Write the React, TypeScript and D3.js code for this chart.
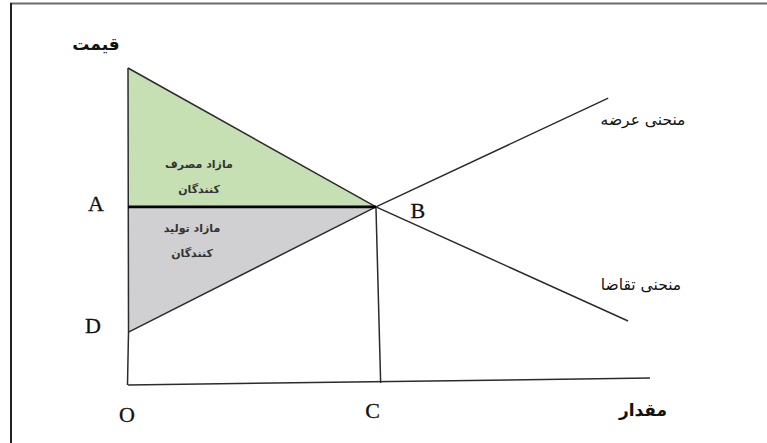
import React, { useEffect, useRef } from "react";
import * as d3 from "d3";

// quantity (q) / price (p) points, axes 0..10
const demandPts: [number, number][] = [[0, 10], [4.75, 5.62], [9.58, 2.02]];
const supplyPts: [number, number][] = [[0.01, 1.67], [4.75, 5.62], [9.2, 9.05]];
const xAxisPts: [number, number][] = [[0, 0], [10, 0.22]];
const yAxisPts: [number, number][] = [[-0.01, 0], [0.01, 1.67], [0, 10]];
const qLinePts: [number, number][] = [[4.75, 5.62], [4.84, 0.06]];
const priceA = 5.62;
const priceD = 1.67;
const qtyC = 4.84;

const pointLabels = ["A", "B", "C", "D", "O"];
const consumerLabel = ["مازاد مصرف", "کنندگان"];
const producerLabel = ["مازاد تولید", "کنندگان"];
const axisTitles = { price: "قیمت", qty: "مقدار" };
const curveLabels = { supply: "منحنی عرضه", demand: "منحنی تقاضا" };

export default function App() {
  const ref = useRef<SVGSVGElement>(null);

  useEffect(() => {
    const svg = d3.select(ref.current);
    svg.selectAll("*").remove();

    const x = d3.scaleLinear().domain([0, 10]).range([128, 650]);
    const y = d3.scaleLinear().domain([0, 10]).range([385, 68]);
    const line = d3
      .line<[number, number]>()
      .x((d) => x(d[0]))
      .y((d) => y(d[1]));

    // frame (cut on right and bottom)
    svg.append("line").attr("x1", 10).attr("x2", 767).attr("y1", 3.5).attr("y2", 3.5)
      .attr("stroke", "#6b6b6b").attr("stroke-width", 2);
    svg.append("line").attr("x1", 11).attr("x2", 11).attr("y1", 3).attr("y2", 443)
      .attr("stroke", "#222").attr("stroke-width", 2);

    // consumer surplus triangle
    svg.append("path")
      .attr("d", line([[0, 10], [4.75, priceA], [0, priceA]]) + "Z")
      .attr("fill", "#c6e0b4");
    // producer surplus triangle
    svg.append("path")
      .attr("d", line([[0, priceA], [4.75, priceA], [0.01, priceD]]) + "Z")
      .attr("fill", "#d0cfd1");

    const stroke = "#2b2b2b";
    [xAxisPts, yAxisPts, demandPts, supplyPts, qLinePts].forEach((pts) => {
      svg.append("path").attr("d", line(pts)).attr("fill", "none")
        .attr("stroke", stroke).attr("stroke-width", 1.5);
    });
    // price line A-B
    svg.append("path").attr("d", line([[0, priceA], [4.75, priceA]]))
      .attr("fill", "none").attr("stroke", "#000").attr("stroke-width", 2.6);

    // point letters
    const serif = "'Liberation Serif', 'DejaVu Serif', serif";
    const letterPos: Record<string, [number, number]> = {
      A: [x(0) - 32, y(priceA) + 4],
      B: [x(4.75) + 42, y(priceA) + 11],
      C: [x(qtyC) - 8, y(0) + 33],
      D: [x(0) - 35, y(priceD) + 1],
      O: [x(0) - 1, y(0) + 37],
    };
    pointLabels.forEach((l) => {
      svg.append("text").attr("x", letterPos[l][0]).attr("y", letterPos[l][1])
        .attr("text-anchor", "middle").attr("font-family", serif)
        .attr("font-size", 22).attr("fill", "#111").attr("stroke", "#111")
        .attr("stroke-width", 0.3).text(l);
    });

    const arab = "'DejaVu Sans', sans-serif";
    svg.append("text").attr("x", x(0) - 32).attr("y", 50).attr("text-anchor", "middle")
      .attr("font-family", arab).attr("font-weight", "bold").attr("font-size", 17)
      .attr("fill", "#111").text(axisTitles.price);
    svg.append("text").attr("x", 643).attr("y", 416).attr("text-anchor", "middle")
      .attr("font-family", arab).attr("font-weight", "bold").attr("font-size", 17)
      .attr("fill", "#111").text(axisTitles.qty);

    svg.append("text").attr("x", 643).attr("y", 125).attr("text-anchor", "middle")
      .attr("font-family", arab).attr("font-size", 15.5).attr("fill", "#111")
      .text(curveLabels.supply);
    svg.append("text").attr("x", 641).attr("y", 290).attr("text-anchor", "middle")
      .attr("font-family", arab).attr("font-size", 15.5).attr("fill", "#111")
      .text(curveLabels.demand);

    const block = (lines: string[], cx: number, y0: number) => {
      lines.forEach((t, i) => {
        svg.append("text").attr("x", cx).attr("y", y0 + i * 25).attr("text-anchor", "middle")
          .attr("font-family", arab).attr("font-weight", "bold").attr("font-size", 11)
          .attr("fill", "#333").attr("letter-spacing", 1).text(t);
      });
    };
    block(consumerLabel, 199, 168);
    block(producerLabel, 192, 232);
  }, []);

  return (
    <svg
      ref={ref}
      width={767}
      height={443}
      style={{ position: "absolute", left: 0, top: 0, background: "#fff" }}
    />
  );
}
